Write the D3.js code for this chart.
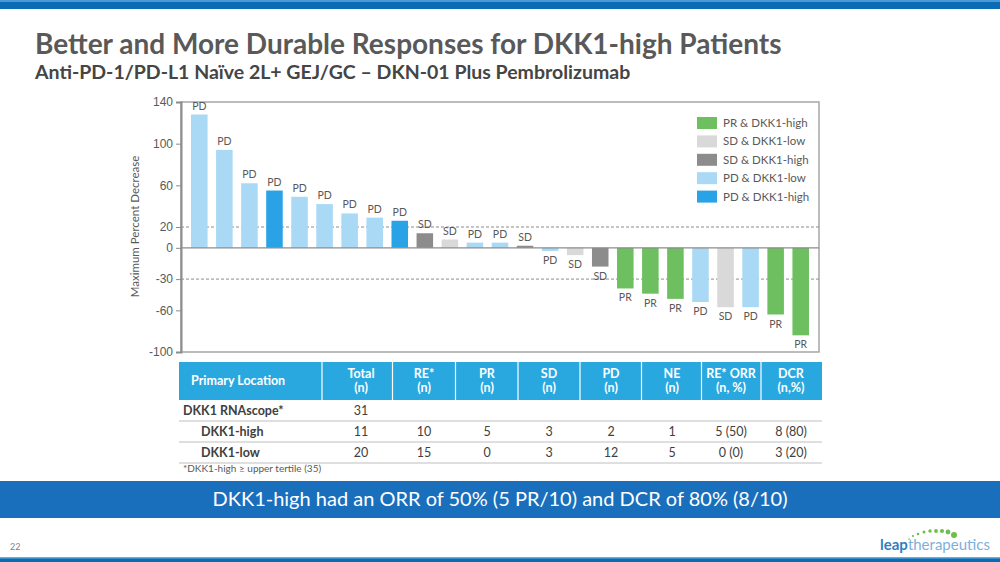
<!DOCTYPE html>
<html lang="en">
<head>
<meta charset="UTF-8" />
<title>Better and More Durable Responses for DKK1-high Patients</title>
<script src="https://d3js.org/d3.v7.min.js"></script>
<style>
  html, body { margin: 0; padding: 0; background: #fff; }
  svg { display: block; font-family: Lato, "Open Sans", sans-serif; }
  .tick text { font-size: 12px; fill: #595959; }
  .barlab { font-size: 10.5px; fill: #595959; text-anchor: middle; }
  .leg { font-size: 11.5px; fill: #595959; }
</style>
</head>
<body>
<div id="chart"></div>
<script>
// bar values (max percent change), one per patient
const values = [128, 94, 62, 55, 49, 42, 33, 29, 26, 14, 8, 5, 5, 2,
                -3, -7, -18, -39, -44, -49, -52, -57, -57, -64, -84];
const responses = ['PD','PD','PD','PD','PD','PD','PD','PD','PD','SD','SD','PD','PD','SD',
                   'PD','SD','SD','PR','PR','PR','PD','SD','PD','PR','PR'];
const groups = ['PD-low','PD-low','PD-low','PD-high','PD-low','PD-low','PD-low','PD-low','PD-high',
                'SD-high','SD-low','PD-low','PD-low','SD-high','PD-low','SD-low','SD-high',
                'PR-high','PR-high','PR-high','PD-low','SD-low','PD-low','PR-high','PR-high'];
const legendKeys = ['PR-high','SD-low','SD-high','PD-low','PD-high'];
const legendLabels = ['PR & DKK1-high','SD & DKK1-low','SD & DKK1-high','PD & DKK1-low','PD & DKK1-high'];
const yTicks = [140, 100, 60, 20, 0, -30, -60, -100];
const refLines = [20, -30];

// table
const tableHeads = ['Primary Location','Total\n(n)','RE*\n(n)','PR\n(n)','SD\n(n)','PD\n(n)','NE\n(n)','RE* ORR\n(n, %)','DCR\n(n,%)'];
const tableRows = [
  ['DKK1 RNAscope*', '31', '', '', '', '', '', '', ''],
  ['DKK1-high', '11', '10', '5', '3', '2', '1', '5 (50)', '8 (80)'],
  ['DKK1-low', '20', '15', '0', '3', '12', '5', '0 (0)', '3 (20)']
];

const colors = {
  'PR-high': '#6dbf5f', 'SD-low': '#d9d9d9', 'SD-high': '#8c8c8c',
  'PD-low': '#a9d9f5', 'PD-high': '#2aa3e6'
};

const W = 1000, H = 562;
const svg = d3.select('#chart').append('svg').attr('width', W).attr('height', H);

// page chrome
svg.append('rect').attr('x', 0).attr('y', 0).attr('width', W).attr('height', 9).attr('fill', '#0b6cb6');
svg.append('rect').attr('x', 0).attr('y', 0).attr('width', W).attr('height', 2).attr('fill', '#4a9ad6');
svg.append('text').attr('x', 35).attr('y', 54).attr('font-size', 28).attr('font-weight', 700)
  .attr('fill', '#595959').text('Better and More Durable Responses for DKK1-high Patients');
svg.append('text').attr('x', 35).attr('y', 79).attr('font-size', 19.5).attr('font-weight', 700)
  .attr('fill', '#454545').text('Anti-PD-1/PD-L1 Naïve 2L+ GEJ/GC – DKN-01 Plus Pembrolizumab');

// chart
const plot = { left: 181, right: 819, top: 101, bottom: 352 };
const x = d3.scaleBand().domain(d3.range(values.length))
  .range([plot.left, plot.right]).paddingInner(0.34).paddingOuter(0.4);
const y = d3.scaleLinear().domain([-100, 140]).range([plot.bottom, plot.top + 1]);

const g = svg.append('g');
g.append('rect').attr('x', plot.left).attr('y', y(140)).attr('width', plot.right - plot.left)
  .attr('height', y(-100) - y(140)).attr('fill', 'none').attr('stroke', '#a6a6a6').attr('stroke-width', 1.5);

g.selectAll('.ref').data(refLines).enter().append('line')
  .attr('x1', plot.left).attr('x2', plot.right)
  .attr('y1', d => y(d)).attr('y2', d => y(d))
  .attr('stroke', '#8c8c8c').attr('stroke-dasharray', '3,2').attr('stroke-width', 1);

g.selectAll('.bar').data(values).enter().append('rect')
  .attr('x', (d, i) => x(i))
  .attr('width', x.bandwidth())
  .attr('y', d => y(Math.max(0, d)))
  .attr('height', d => Math.abs(y(d) - y(0)))
  .attr('fill', (d, i) => colors[groups[i]]);

g.selectAll('.barlab').data(values).enter().append('text')
  .attr('class', 'barlab')
  .attr('x', (d, i) => x(i) + x.bandwidth() / 2)
  .attr('y', d => d >= 0 ? y(d) - 5 : y(d) + 13)
  .text((d, i) => responses[i]);

g.append('line').attr('x1', plot.left).attr('x2', plot.right)
  .attr('y1', y(0)).attr('y2', y(0)).attr('stroke', '#8c8c8c').attr('stroke-width', 1.3);

const yAxis = g.append('g').attr('transform', `translate(${plot.left},0)`)
  .call(d3.axisLeft(y).tickValues(yTicks).tickSize(5).tickPadding(3).tickFormat(d => String(d)));
yAxis.select('.domain').attr('stroke', '#8c8c8c').attr('stroke-width', 2);
yAxis.selectAll('.tick line').attr('stroke', '#8c8c8c');

svg.append('text').attr('transform', `translate(139,${(plot.top + plot.bottom) / 2}) rotate(-90)`)
  .attr('text-anchor', 'middle').attr('font-size', 11.5).attr('fill', '#595959')
  .text('Maximum Percent Decrease');

// legend
const leg = svg.append('g').selectAll('g').data(legendKeys).enter().append('g')
  .attr('transform', (d, i) => `translate(697,${117 + i * 18.4})`);
leg.append('rect').attr('width', 20).attr('height', 12).attr('fill', d => colors[d]);
leg.append('text').attr('class', 'leg').attr('x', 26).attr('y', 10).text((d, i) => legendLabels[i]);

// table
const colCenters = [0, 361, 424, 487, 549, 611, 672, 731, 791];
const tLeft = 179, tRight = 822, hTop = 362, hBot = 400, rowH = 21;
const seps = colCenters.slice(1).map((c, i) => i === 0 ? 322 : (c + colCenters[i]) / 2);
const tg = svg.append('g');
tg.append('rect').attr('x', tLeft).attr('y', hTop).attr('width', tRight - tLeft)
  .attr('height', hBot - hTop).attr('fill', '#29a8e0');
tg.selectAll('.sep').data(seps).enter().append('line')
  .attr('x1', d => d).attr('x2', d => d).attr('y1', hTop).attr('y2', hBot)
  .attr('stroke', '#fff').attr('stroke-width', 1.2);
tableHeads.forEach((h, i) => {
  const lines = h.split('\n');
  const t = tg.append('text').attr('fill', '#fff').attr('font-size', 12.5).attr('font-weight', 700)
    .attr('text-anchor', i === 0 ? 'start' : 'middle')
    .attr('x', i === 0 ? 191 : colCenters[i]);
  if (lines.length === 1) {
    t.attr('y', 385).text(lines[0]);
  } else {
    lines.forEach((l, k) => t.append('tspan').attr('x', colCenters[i]).attr('y', 378 + k * 14).text(l));
  }
});
tableRows.forEach((row, r) => {
  const cy = hBot + r * rowH;
  row.forEach((c, i) => {
    tg.append('text').attr('font-size', 12.5)
      .attr('font-weight', i === 0 ? 700 : 400)
      .attr('fill', '#404040')
      .attr('text-anchor', i === 0 ? 'start' : 'middle')
      .attr('x', i === 0 ? (r === 0 ? 183 : 201) : colCenters[i])
      .attr('y', cy + 15).text(c);
  });
  tg.append('line').attr('x1', tLeft).attr('x2', tRight).attr('y1', cy + rowH).attr('y2', cy + rowH)
    .attr('stroke', '#bfbfbf').attr('stroke-width', 1);
});
svg.append('text').attr('x', 183).attr('y', 472).attr('font-size', 10).attr('fill', '#595959')
  .text('*DKK1-high ≥ upper tertile (35)');

// banner
svg.append('rect').attr('x', 0).attr('y', 481).attr('width', W).attr('height', 37).attr('fill', '#1a6fbd');
svg.append('text').attr('x', W / 2).attr('y', 506).attr('text-anchor', 'middle')
  .attr('font-size', 20).attr('fill', '#fff')
  .text('DKK1-high had an ORR of 50% (5 PR/10) and DCR of 80% (8/10)');

// footer
svg.append('text').attr('x', 10).attr('y', 550).attr('font-size', 9).attr('fill', '#7f7f7f').text('22');
const logo = svg.append('text').attr('x', 880).attr('y', 550).attr('font-size', 15);
logo.append('tspan').attr('font-weight', 700).attr('fill', '#2f7fbf').text('leap');
logo.append('tspan').attr('fill', '#7fb0da').text('therapeutics');
const dots = [[909, 539, 0.8], [913, 536, 1.1], [918, 534, 1.3], [924, 532, 1.5], [930, 531, 1.7],
              [936, 531, 1.9], [942, 531, 2.1], [948, 532, 2.4], [954, 535, 3]];
svg.append('g').selectAll('circle').data(dots).enter().append('circle')
  .attr('cx', d => d[0]).attr('cy', d => d[1]).attr('r', d => d[2]).attr('fill', '#6dbf4b');
svg.append('rect').attr('x', 0).attr('y', 557).attr('width', W).attr('height', 5).attr('fill', '#0b6cb6');
svg.append('rect').attr('x', 0).attr('y', 557).attr('width', W).attr('height', 1.5).attr('fill', '#6aaee0');
</script>
</body>
</html>
